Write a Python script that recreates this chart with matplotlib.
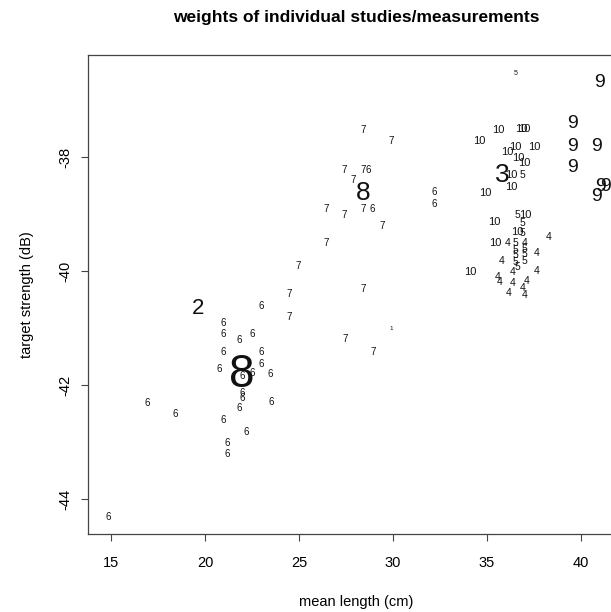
import matplotlib
matplotlib.use("Agg")
import matplotlib.pyplot as plt

plt.rcParams['font.family'] = ['Liberation Sans', 'DejaVu Sans']

# study id, mean length (cm), target strength (dB), weight (text cex)
study = [1,
         2,
         3,
         4, 4, 4, 4, 4, 4, 4, 4, 4, 4, 4, 4, 4, 4,
         5, 5, 5, 5, 5, 5, 5, 5, 5, 5, 5, 5, 5,
         6, 6, 6, 6, 6, 6, 6, 6, 6, 6, 6, 6, 6, 6, 6, 6, 6, 6, 6, 6, 6, 6, 6, 6, 6, 6, 6,
         7, 7, 7, 7, 7, 7, 7, 7, 7, 7, 7, 7, 7, 7, 7, 7,
         8, 8,
         9, 9, 9, 9, 9, 9, 9, 9,
         10, 10, 10, 10, 10, 10, 10, 10, 10, 10, 10, 10, 10, 10, 10, 10, 10]

length = [29.9,
          19.63,
          35.80,
          38.30, 36.12, 37.02, 37.66, 35.80, 36.38, 37.66, 35.59, 35.69, 36.38, 37.13, 36.91, 36.17, 37.02,
          36.54, 36.91, 36.60, 36.91, 36.91, 36.54, 36.54, 36.97, 36.54, 36.97, 36.97, 36.54, 36.60,
          32.18, 32.18, 28.88, 28.67, 22.98, 20.96, 20.96, 21.81, 22.50, 20.96, 22.98, 22.98, 20.74,
          22.50, 21.97, 23.46, 21.97, 21.97, 23.51, 21.81, 20.96, 22.18, 21.17, 21.17, 16.91, 18.40, 14.84,
          28.40, 29.89, 27.39, 28.40, 27.87, 26.44, 27.39, 28.40, 29.41, 26.44, 24.95, 24.47, 24.47,
          28.40, 27.45, 28.94,
          28.40, 21.97,
          41.01, 39.57, 39.57, 40.80, 39.57, 41.06, 41.28, 40.80,
          35.59, 36.81, 36.97, 34.57, 36.49, 37.50, 36.06, 36.65, 36.97, 36.28, 36.28, 34.89, 37.02,
          35.37, 36.60, 35.43, 34.10]

ts = [-41.0,
      -40.65,
      -38.32,
      -39.40, -39.51, -39.51, -39.68, -39.82, -40.02, -40.00, -40.11, -40.19, -40.21, -40.18, -40.30, -40.39, -40.42,
      -36.53, -38.32, -39.02, -39.16, -39.33, -39.51, -39.63, -39.61, -39.72, -39.70, -39.82, -39.84, -39.93,
      -38.61, -38.82, -38.91, -38.23, -40.61, -40.91, -41.11, -41.21, -41.11, -41.42, -41.42, -41.63, -41.72,
      -41.79, -41.84, -41.81, -42.14, -42.23, -42.30, -42.40, -42.61, -42.82, -43.02, -43.21, -42.32, -42.51, -44.32,
      -37.53, -37.72, -38.23, -38.23, -38.40, -38.91, -39.02, -38.91, -39.21, -39.51, -39.91, -40.40, -40.81,
      -40.32, -41.19, -41.42,
      -38.63, -41.82,
      -36.70, -37.42, -37.82, -37.82, -38.19, -38.51, -38.51, -38.70,
      -37.53, -37.51, -37.51, -37.72, -37.82, -37.82, -37.91, -38.02, -38.11, -38.32, -38.53, -38.63, -39.02,
      -39.14, -39.32, -39.51, -40.02]

weight = [0.45,
          1.6,
          1.9,
          0.75, 0.75, 0.75, 0.75, 0.75, 0.75, 0.75, 0.75, 0.75, 0.75, 0.75, 0.75, 0.75, 0.75,
          0.5, 0.75, 0.75, 0.75, 0.75, 0.75, 0.75, 0.75, 0.75, 0.75, 0.75, 0.75, 0.75,
          0.7, 0.7, 0.7, 0.7, 0.7, 0.7, 0.7, 0.7, 0.7, 0.7, 0.7, 0.7, 0.7,
          0.7, 0.7, 0.7, 0.7, 0.7, 0.7, 0.7, 0.7, 0.7, 0.7, 0.7, 0.7, 0.7, 0.7,
          0.7, 0.7, 0.7, 0.7, 0.7, 0.7, 0.7, 0.7, 0.7, 0.7, 0.7, 0.7, 0.7,
          0.7, 0.7, 0.7,
          1.9, 3.3,
          1.4, 1.4, 1.4, 1.4, 1.4, 1.4, 1.4, 1.4,
          0.8, 0.8, 0.8, 0.8, 0.8, 0.8, 0.8, 0.8, 0.8, 0.8, 0.8, 0.8, 0.8,
          0.8, 0.8, 0.8, 0.8]

x_ticks = [15, 20, 25, 30, 35, 40]
y_ticks = [-44, -42, -40, -38]

fig = plt.figure(figsize=(6.11, 6.12), dpi=100)
ax = fig.add_axes([88 / 611, 78 / 612, 537 / 611, 479 / 612])

for s, x, y, w in zip(study, length, ts, weight):
    ax.text(x, y, str(s), fontsize=10 * w, ha="center", va="center",
            color="#111111")

ax.set_xlim(13.78, 42.34)
ax.set_ylim(-44.61, -36.21)
ax.set_xticks(x_ticks)
ax.set_yticks(y_ticks)
ax.set_yticklabels([str(v) for v in y_ticks], rotation=90, va="center")
ax.tick_params(direction="out", length=5, width=0.8, labelsize=10.5,
               color="#444444")
ax.tick_params(axis="x", pad=11)
ax.tick_params(axis="y", pad=6)
for sp in ax.spines.values():
    sp.set_color("#444444")
    sp.set_linewidth(0.9)

ax.set_xlabel("mean length (cm)", fontsize=10.5, labelpad=18)
ax.set_ylabel("target strength (dB)", fontsize=10.5, labelpad=18)
ax.set_title("weights of individual studies/measurements",
             fontsize=12.5, fontweight="bold", pad=24)

fig.savefig("out.png", dpi=100)
